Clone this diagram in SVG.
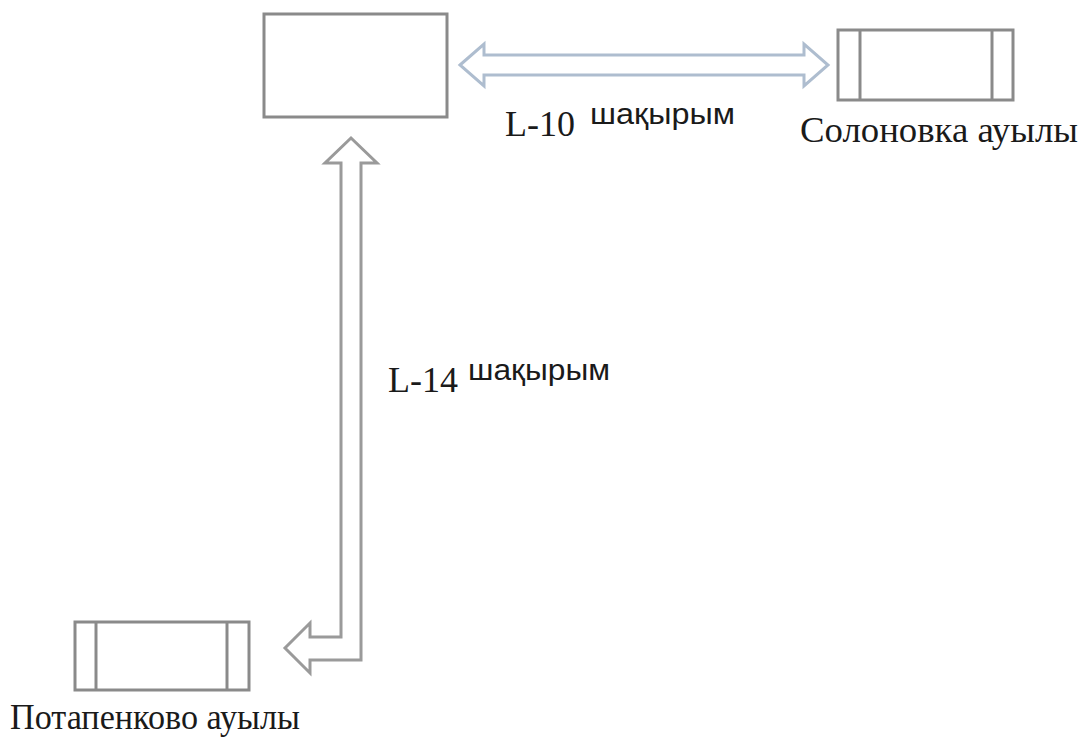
<svg xmlns="http://www.w3.org/2000/svg" width="1086" height="740" viewBox="0 0 1086 740">
<style>
.box{fill:#fff;stroke:#8a8a8a;stroke-width:3}
.div{stroke:#8a8a8a;stroke-width:3}
.arr{fill:#fff;stroke-width:3;stroke-linejoin:miter}
.serif{font-family:"Liberation Serif","Times New Roman",serif;fill:#1a1a1a}
.sans{font-family:"Liberation Sans",Arial,sans-serif;fill:#1a1a1a}
</style>
<rect width="1086" height="740" fill="#fff"/>
<g id="connectors">
<path class="arr" stroke="#aebdcf" d="M460,65 L484,44 L484,55 L804,55 L804,44 L828,65 L804,86 L804,75 L484,75 L484,86 Z"/>
<path class="arr" stroke="#9a9a9a" d="M351,138 L377,163 L361,163 L361,660 L310,660 L310,673 L285,648 L310,623 L310,637 L341,637 L341,163 L325,163 Z"/>
</g>
<g id="main">
<rect class="box" x="264" y="14" width="183" height="103"/>
</g>
<g id="solonovka">
<rect class="box" x="838" y="30" width="175" height="70"/>
<line class="div" x1="860" y1="30" x2="860" y2="100"/>
<line class="div" x1="992" y1="30" x2="992" y2="100"/>
<text class="serif" x="800" y="142" font-size="36" textLength="278" lengthAdjust="spacingAndGlyphs">Солоновка ауылы</text>
</g>
<g id="potapenkovo">
<rect class="box" x="75" y="622" width="174" height="68"/>
<line class="div" x1="96" y1="622" x2="96" y2="690"/>
<line class="div" x1="227" y1="622" x2="227" y2="690"/>
<text class="serif" x="10" y="729" font-size="35" textLength="290" lengthAdjust="spacingAndGlyphs">Потапенково ауылы</text>
</g>
<g id="label-l10">
<text class="serif" x="505" y="136" font-size="36">L-10</text>
<text class="sans" x="590" y="124" font-size="30" textLength="145" lengthAdjust="spacingAndGlyphs">шақырым</text>
</g>
<g id="label-l14">
<text class="serif" x="388" y="392" font-size="36">L-14</text>
<text class="sans" x="468" y="380" font-size="30" textLength="142" lengthAdjust="spacingAndGlyphs">шақырым</text>
</g>
</svg>
